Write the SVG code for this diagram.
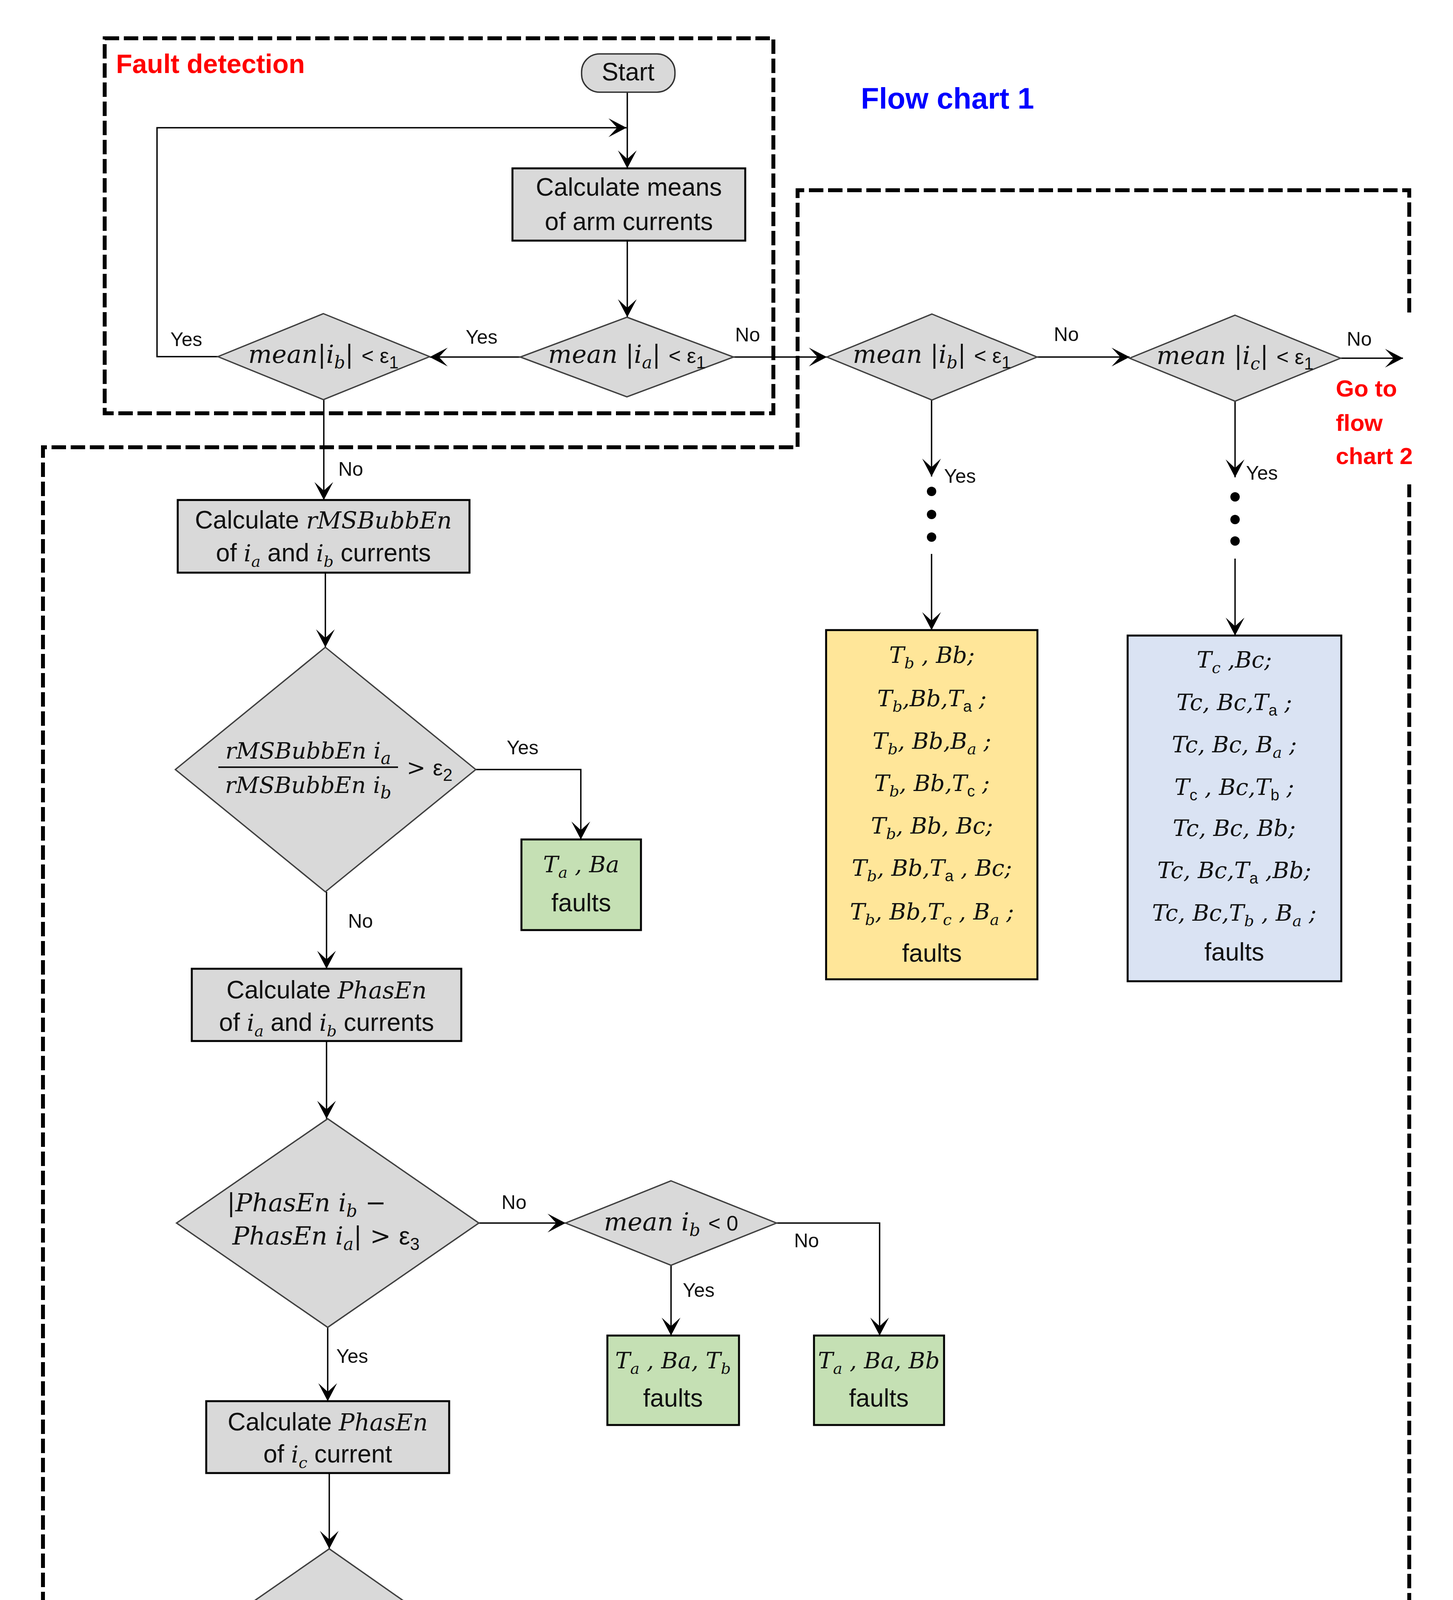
<svg xmlns="http://www.w3.org/2000/svg" width="3720" height="5418" viewBox="0 0 3720 5418">
<style>
.bg{fill:#fff}
.dash{fill:none;stroke:#000;stroke-width:10;stroke-dasharray:37 12}
.box{fill:#d9d9d9;stroke:#000;stroke-width:5}
.dia{fill:#d9d9d9;stroke:#404040;stroke-width:3.5}
.grn{fill:#c5e0b4;stroke:#000;stroke-width:5}
.yel{fill:#ffe699;stroke:#000;stroke-width:5}
.blu{fill:#dae3f3;stroke:#000;stroke-width:5}
.con{fill:none;stroke:#000;stroke-width:3.5}
.arr{marker-end:url(#ah)}
.t{font-family:"Liberation Sans",Arial,sans-serif;font-size:64px;fill:#111}
.lb{font-family:"Liberation Sans",Arial,sans-serif;font-size:50px;fill:#111}
.ttl{font-family:"Liberation Sans",Arial,sans-serif;font-weight:bold}
.m{font-family:"DejaVu Serif","Liberation Serif",serif;font-style:italic;font-size:58px;fill:#111}
.mb{font-family:"DejaVu Serif","Liberation Serif",serif;font-style:italic;font-size:64px;fill:#111}
.mi{font-family:"DejaVu Serif","Liberation Serif",serif;font-style:italic;font-size:60px}
.u{font-family:"Liberation Sans",Arial,sans-serif;font-style:normal}
.s{font-size:40px}
.sb{font-size:44px}
</style>
<defs>
<marker id="ah" markerUnits="userSpaceOnUse" markerWidth="60" markerHeight="60" viewBox="-50 -30 60 60" refX="0" refY="0" orient="auto">
<path d="M0,0 L-46,-24 L-24,0 L-46,24 Z" fill="#000"/>
</marker>
</defs>
<rect class="bg" x="0" y="0" width="3720" height="5418"/>

<g id="regions">
<rect class="dash" x="268" y="98" width="1712" height="960"/>
<path class="dash" d="M3608,800 V487 H2042 V1145 H110 V5335 H3608 V1240"/>
<text class="ttl" x="297" y="187" font-size="68" fill="#ff0000">Fault detection</text>
<text class="ttl" x="2204" y="278" font-size="76" fill="#0000ff">Flow chart 1</text>
<text class="ttl" font-size="60" fill="#ff0000"><tspan x="3420" y="1015">Go to</tspan><tspan x="3420" y="1103">flow</tspan><tspan x="3420" y="1188">chart 2</tspan></text>
<text class="ttl" x="3043" y="5263" font-size="67" fill="#ff0000">Faults isolation</text>
</g>

<g id="connectors">
<path class="con arr" d="M1606,236 V431"/>
<path class="con arr" d="M558,913 H402 V327 H1604"/>
<path class="con arr" d="M1606,616 V812"/>
<path class="con arr" d="M1332,914 H1100"/>
<path class="con arr" d="M1878,914 H2117"/>
<path class="con arr" d="M2655,914 H2892"/>
<path class="con arr" d="M3432,917 H3592"/>
<path class="con arr" d="M829,1023 V1280"/>
<path class="con arr" d="M2385,1024 V1220"/>
<path class="con arr" d="M2385,1418 V1613"/>
<path class="con arr" d="M3162,1027 V1222"/>
<path class="con arr" d="M3162,1430 V1627"/>
<path class="con arr" d="M833,1466 V1657"/>
<path class="con arr" d="M1218,1970 H1487 V2149"/>
<path class="con arr" d="M836,2283 V2480"/>
<path class="con arr" d="M836,2665 V2864"/>
<path class="con arr" d="M1226,3131 H1448"/>
<path class="con arr" d="M1988,3131 H2252 V3419"/>
<path class="con arr" d="M1718,3239 V3419"/>
<path class="con arr" d="M839,3398 V3587"/>
<path class="con arr" d="M843,3771 V3965"/>
<path class="con arr" d="M1224,4232 H1698 V4555"/>
<path class="con arr" d="M843,4500 V4677"/>
<path class="con arr" d="M578,4786 H410 V5021"/>
<path class="con arr" d="M846,4895 V5021"/>
<path class="con arr" d="M1970,4662 H2110 V4961"/>
<path class="con arr" d="M1700,4769 V4961"/>
<circle cx="2385" cy="1258" r="12" fill="#000"/>
<circle cx="2385" cy="1317" r="12" fill="#000"/>
<circle cx="2385" cy="1375" r="12" fill="#000"/>
<circle cx="3162" cy="1272" r="12" fill="#000"/>
<circle cx="3162" cy="1330" r="12" fill="#000"/>
<circle cx="3162" cy="1385" r="12" fill="#000"/>
<text class="lb" x="477" y="886" text-anchor="middle">Yes</text>
<text class="lb" x="1233" y="880" text-anchor="middle">Yes</text>
<text class="lb" x="1914" y="874" text-anchor="middle">No</text>
<text class="lb" x="2730" y="873" text-anchor="middle">No</text>
<text class="lb" x="3480" y="885" text-anchor="middle">No</text>
<text class="lb" x="2417" y="1236">Yes</text>
<text class="lb" x="3190" y="1228">Yes</text>
<text class="lb" x="866" y="1218">No</text>
<text class="lb" x="1338" y="1931" text-anchor="middle">Yes</text>
<text class="lb" x="891" y="2375">No</text>
<text class="lb" x="1316" y="3095" text-anchor="middle">No</text>
<text class="lb" x="2033" y="3193">No</text>
<text class="lb" x="1748" y="3320">Yes</text>
<text class="lb" x="861" y="3489">Yes</text>
<text class="lb" x="1391" y="4175">No</text>
<text class="lb" x="878" y="4581">Yes</text>
<text class="lb" x="467" y="4749">Yes</text>
<text class="lb" x="882" y="4965">No</text>
<text class="lb" x="1997" y="4638">Yes</text>
<text class="lb" x="1746" y="4883">No</text>
</g>

<g id="start">
<rect x="1489" y="138" width="239" height="98" rx="46" fill="#d9d9d9" stroke="#333" stroke-width="3.5"/>
<text class="t" x="1608" y="206" text-anchor="middle" font-size="60">Start</text>
</g>

<g id="calc-means">
<rect class="box" x="1312" y="431" width="596" height="185"/>
<text class="t" x="1610" y="501" text-anchor="middle">Calculate means</text>
<text class="t" x="1610" y="589" text-anchor="middle">of arm currents</text>
</g>

<g id="dec-ia">
<polygon class="dia" points="1605,812 1878,914 1605,1016 1332,914"/>
<text class="mb" x="1605" y="929" text-anchor="middle">mean |i<tspan class="sb" dy="14">a</tspan><tspan dy="-14">| </tspan><tspan class="u" font-size="54">&lt; ε</tspan><tspan class="u sb" dy="14">1</tspan></text>
</g>

<g id="dec-ib-left">
<polygon class="dia" points="828,803 1100,913 828,1023 558,913"/>
<text class="mb" x="828" y="929" text-anchor="middle">mean|i<tspan class="sb" dy="14">b</tspan><tspan dy="-14">| </tspan><tspan class="u" font-size="54">&lt; ε</tspan><tspan class="u sb" dy="14">1</tspan></text>
</g>

<g id="dec-ib">
<polygon class="dia" points="2386,804 2655,914 2386,1024 2117,914"/>
<text class="mb" x="2386" y="929" text-anchor="middle">mean |i<tspan class="sb" dy="14">b</tspan><tspan dy="-14">| </tspan><tspan class="u" font-size="54">&lt; ε</tspan><tspan class="u sb" dy="14">1</tspan></text>
</g>

<g id="dec-ic">
<polygon class="dia" points="3162,807 3432,917 3162,1027 2892,917"/>
<text class="mb" x="3162" y="932" text-anchor="middle">mean |i<tspan class="sb" dy="14">c</tspan><tspan dy="-14">| </tspan><tspan class="u" font-size="54">&lt; ε</tspan><tspan class="u sb" dy="14">1</tspan></text>
</g>

<g id="faults-b">
<rect class="yel" x="2115" y="1613" width="541" height="894"/>
<text class="m" x="2386" y="1697" text-anchor="middle">T<tspan class="s" dy="14">b</tspan><tspan dy="-14"> , Bb;</tspan></text>
<text class="m" x="2386" y="1808" text-anchor="middle">T<tspan class="s" dy="14">b</tspan><tspan dy="-14">,Bb,T</tspan><tspan class="u s" dy="14">a</tspan><tspan dy="-14"> ;</tspan></text>
<text class="m" x="2386" y="1917" text-anchor="middle">T<tspan class="s" dy="14">b</tspan><tspan dy="-14">, Bb,B</tspan><tspan class="s" dy="14">a</tspan><tspan dy="-14"> ;</tspan></text>
<text class="m" x="2386" y="2025" text-anchor="middle">T<tspan class="s" dy="14">b</tspan><tspan dy="-14">, Bb,T</tspan><tspan class="u s" dy="14">c</tspan><tspan dy="-14"> ;</tspan></text>
<text class="m" x="2386" y="2134" text-anchor="middle">T<tspan class="s" dy="14">b</tspan><tspan dy="-14">, Bb, Bc;</tspan></text>
<text class="m" x="2386" y="2242" text-anchor="middle">T<tspan class="s" dy="14">b</tspan><tspan dy="-14">, Bb,T</tspan><tspan class="u s" dy="14">a</tspan><tspan dy="-14"> , Bc;</tspan></text>
<text class="m" x="2386" y="2354" text-anchor="middle">T<tspan class="s" dy="14">b</tspan><tspan dy="-14">, Bb,T</tspan><tspan class="s" dy="14">c</tspan><tspan dy="-14"> , B</tspan><tspan class="s" dy="14">a</tspan><tspan dy="-14"> ;</tspan></text>
<text class="t" x="2386" y="2462" text-anchor="middle">faults</text>
</g>

<g id="faults-c">
<rect class="blu" x="2887" y="1627" width="547" height="885"/>
<text class="m" x="3160" y="1709" text-anchor="middle">T<tspan class="s" dy="14">c</tspan><tspan dy="-14"> ,Bc;</tspan></text>
<text class="m" x="3160" y="1818" text-anchor="middle">Tc, Bc,T<tspan class="u s" dy="14">a</tspan><tspan dy="-14"> ;</tspan></text>
<text class="m" x="3160" y="1926" text-anchor="middle">Tc, Bc, B<tspan class="s" dy="14">a</tspan><tspan dy="-14"> ;</tspan></text>
<text class="m" x="3160" y="2035" text-anchor="middle">T<tspan class="u s" dy="14">c</tspan><tspan dy="-14"> , Bc,T</tspan><tspan class="u s" dy="14">b</tspan><tspan dy="-14"> ;</tspan></text>
<text class="m" x="3160" y="2140" text-anchor="middle">Tc, Bc, Bb;</text>
<text class="m" x="3160" y="2248" text-anchor="middle">Tc, Bc,T<tspan class="u s" dy="14">a</tspan><tspan dy="-14"> ,Bb;</tspan></text>
<text class="m" x="3160" y="2357" text-anchor="middle">Tc, Bc,T<tspan class="s" dy="14">b</tspan><tspan dy="-14"> , B</tspan><tspan class="s" dy="14">a</tspan><tspan dy="-14"> ;</tspan></text>
<text class="t" x="3160" y="2459" text-anchor="middle">faults</text>
</g>

<g id="calc-rms">
<rect class="box" x="455" y="1280" width="747" height="186"/>
<text class="t" x="828" y="1353" text-anchor="middle">Calculate <tspan class="mi">rMSBubbEn</tspan></text>
<text class="t" x="828" y="1437" text-anchor="middle">of <tspan class="mi">i</tspan><tspan class="mi s" dy="14">a</tspan><tspan dy="-14"> and </tspan><tspan class="mi">i</tspan><tspan class="mi s" dy="14">b</tspan><tspan dy="-14"> currents</tspan></text>
</g>

<g id="dec-rms">
<polygon class="dia" points="833,1657 1218,1970 833,2283 449,1970"/>
<text class="m" x="789" y="1942" text-anchor="middle" font-size="60">rMSBubbEn i<tspan class="sb" dy="14">a</tspan></text>
<line x1="559" y1="1964" x2="1019" y2="1964" stroke="#111" stroke-width="4"/>
<text class="m" x="789" y="2030" text-anchor="middle" font-size="60">rMSBubbEn i<tspan class="sb" dy="14">b</tspan></text>
<text class="m" x="1041" y="1985" font-size="60"><tspan font-style="normal">&gt; </tspan><tspan class="u">ε</tspan><tspan class="u sb" dy="14">2</tspan></text>
</g>

<g id="faults-ab">
<rect class="grn" x="1335" y="2149" width="306" height="232"/>
<text class="m" x="1488" y="2233" text-anchor="middle">T<tspan class="s" dy="14">a</tspan><tspan dy="-14"> , Ba</tspan></text>
<text class="t" x="1488" y="2333" text-anchor="middle">faults</text>
</g>

<g id="calc-phasen-ab">
<rect class="box" x="491" y="2480" width="690" height="185"/>
<text class="t" x="836" y="2556" text-anchor="middle">Calculate <tspan class="mi">PhasEn</tspan></text>
<text class="t" x="836" y="2639" text-anchor="middle">of <tspan class="mi">i</tspan><tspan class="mi s" dy="14">a</tspan><tspan dy="-14"> and </tspan><tspan class="mi">i</tspan><tspan class="mi s" dy="14">b</tspan><tspan dy="-14"> currents</tspan></text>
</g>

<g id="dec-phasen-ab">
<polygon class="dia" points="839,2864 1226,3131 839,3398 452,3131"/>
<text class="mb" x="581" y="3101">|PhasEn i<tspan class="sb" dy="14">b</tspan><tspan dy="-14"> −</tspan></text>
<text class="mb" x="595" y="3186">PhasEn i<tspan class="sb" dy="14">a</tspan><tspan dy="-14">| </tspan><tspan font-style="normal">&gt; </tspan><tspan class="u">ε</tspan><tspan class="u sb" dy="14">3</tspan></text>
</g>

<g id="dec-mean-ib-1">
<polygon class="dia" points="1718,3023 1988,3131 1718,3239 1448,3131"/>
<text class="mb" x="1718" y="3150" text-anchor="middle">mean i<tspan class="sb" dy="14">b</tspan><tspan dy="-14"> </tspan><tspan class="u" font-size="54">&lt; 0</tspan></text>
</g>

<g id="faults-abtb">
<rect class="grn" x="1555" y="3419" width="337" height="229"/>
<text class="m" x="1723" y="3503" text-anchor="middle">T<tspan class="s" dy="14">a</tspan><tspan dy="-14"> , Ba, T</tspan><tspan class="s" dy="14">b</tspan></text>
<text class="t" x="1723" y="3601" text-anchor="middle">faults</text>
</g>

<g id="faults-abbb">
<rect class="grn" x="2084" y="3419" width="333" height="229"/>
<text class="m" x="2250" y="3503" text-anchor="middle">T<tspan class="s" dy="14">a</tspan><tspan dy="-14"> , Ba, Bb</tspan></text>
<text class="t" x="2250" y="3601" text-anchor="middle">faults</text>
</g>

<g id="calc-phasen-c">
<rect class="box" x="528" y="3587" width="622" height="184"/>
<text class="t" x="839" y="3662" text-anchor="middle">Calculate <tspan class="mi">PhasEn</tspan></text>
<text class="t" x="839" y="3744" text-anchor="middle">of <tspan class="mi">i</tspan><tspan class="mi s" dy="14">c</tspan><tspan dy="-14"> current</tspan></text>
</g>

<g id="dec-phasen-ca">
<polygon class="dia" points="843,3965 1224,4232 843,4500 458,4232"/>
<text class="mb" x="592" y="4210">|PhasEn i<tspan class="sb" dy="14">c</tspan><tspan dy="-14"> −</tspan></text>
<text class="mb" x="597" y="4296">PhasEn i<tspan class="sb" dy="14">a</tspan><tspan dy="-14">| </tspan><tspan font-style="normal">&gt; </tspan><tspan class="u">ε</tspan><tspan class="u sb" dy="14">3</tspan></text>
</g>

<g id="dec-mean-ic">
<polygon class="dia" points="1700,4555 1970,4662 1700,4769 1430,4662"/>
<text class="mb" x="1700" y="4681" text-anchor="middle">mean i<tspan class="sb" dy="14">c</tspan><tspan dy="-14"> </tspan><tspan class="u" font-size="54">&lt; 0</tspan></text>
</g>

<g id="dec-mean-ib-2">
<polygon class="dia" points="845,4677 1117,4786 845,4895 578,4786"/>
<text class="mb" x="845" y="4805" text-anchor="middle">mean i<tspan class="sb" dy="14">b</tspan><tspan dy="-14"> </tspan><tspan class="u" font-size="54">&lt; 0</tspan></text>
</g>

<g id="faults-abtbbc">
<rect class="grn" x="176" y="5021" width="478" height="236"/>
<text class="m" x="415" y="5103" text-anchor="middle">T<tspan class="s" dy="14">a</tspan><tspan dy="-14"> , Ba, T</tspan><tspan class="s" dy="14">b</tspan><tspan dy="-14">, Bc</tspan></text>
<text class="t" x="415" y="5210" text-anchor="middle">faults</text>
</g>

<g id="faults-abbbtc">
<rect class="grn" x="740" y="5021" width="478" height="236"/>
<text class="m" x="979" y="5103" text-anchor="middle">T<tspan class="s" dy="14">a</tspan><tspan dy="-14"> , Ba, B</tspan><tspan class="s" dy="14">b</tspan><tspan dy="-14">, Tc</tspan></text>
<text class="t" x="979" y="5210" text-anchor="middle">faults</text>
</g>

<g id="faults-abbc">
<rect class="grn" x="1537" y="4961" width="328" height="234"/>
<text class="m" x="1701" y="5047" text-anchor="middle">T<tspan class="s" dy="14">a</tspan><tspan dy="-14"> ,Ba, Bc</tspan></text>
<text class="t" x="1701" y="5147" text-anchor="middle">faults</text>
</g>

<g id="faults-abtc">
<rect class="grn" x="1955" y="4961" width="320" height="231"/>
<text class="m" x="2115" y="5044" text-anchor="middle">T<tspan class="s" dy="14">a</tspan><tspan dy="-14"> ,Ba, Tc</tspan></text>
<text class="t" x="2115" y="5141" text-anchor="middle">faults</text>
</g>
</svg>
